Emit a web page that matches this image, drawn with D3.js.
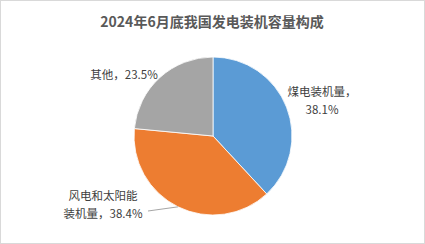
<!DOCTYPE html>
<html><head><meta charset="utf-8">
<script src="https://cdn.jsdelivr.net/npm/d3@7"></script>
<style>body{margin:0;background:#fff;}svg{display:block;}</style>
</head><body>
<script>
const title = "2024年6月底我国发电装机容量构成";
const categories = ["煤电装机量", "风电和太阳能装机量", "其他"];
const values = [38.1, 38.4, 23.5];
const colors = ["#5b9bd5", "#ed7d31", "#a5a5a5"];

const W = 425, H = 244;
const svg = d3.select("body").append("svg").attr("width", W).attr("height", H);
svg.append("rect").attr("x", 0.5).attr("y", 0.5).attr("width", W - 1).attr("height", H - 1)
  .attr("fill", "#fff").attr("stroke", "#d9d9d9");

svg.append("text").attr("x", 212).attr("y", 27).attr("text-anchor", "middle")
  .attr("font-family", "Noto Sans CJK SC").attr("font-weight", "bold").attr("font-size", 14)
  .attr("fill", "#595959").text(title);

const cx = 213, cy = 136, r = 79;
const pie = d3.pie().sort(null).value(d => d)(values);
const arc = d3.arc().innerRadius(0).outerRadius(r);
const g = svg.append("g").attr("transform", `translate(${cx},${cy})`);
g.selectAll("path").data(pie).join("path").attr("d", arc)
  .attr("fill", (d, i) => colors[i]).attr("stroke", "#fff").attr("stroke-width", 0.8);

const font = "Noto Sans CJK SC";
function lbl(lines, x, y, anchor) {
  const t = svg.append("text").attr("font-family", font).attr("font-size", 11.5).attr("fill", "#404040")
    .attr("text-anchor", anchor);
  lines.forEach((l, i) => t.append("tspan").attr("x", x).attr("y", y + i * 18).text(l));
}
lbl([categories[0] + "，", values[0].toFixed(1) + "%"], 322, 96, "middle");
lbl(["风电和太阳能", "装机量，" + values[1].toFixed(1) + "%"], 103, 200, "middle");
lbl([categories[2] + "，" + values[2].toFixed(1) + "%"], 124, 79, "middle");

// leader line for orange slice
const mid = (pie[1].startAngle + pie[1].endAngle) / 2;
const ex = cx + r * Math.sin(mid), ey = cy - r * Math.cos(mid);
svg.append("line").attr("x1", 148).attr("y1", 211).attr("x2", ex).attr("y2", ey)
  .attr("stroke", "#a6a6a6").attr("stroke-width", 1);
</script>
</body></html>
